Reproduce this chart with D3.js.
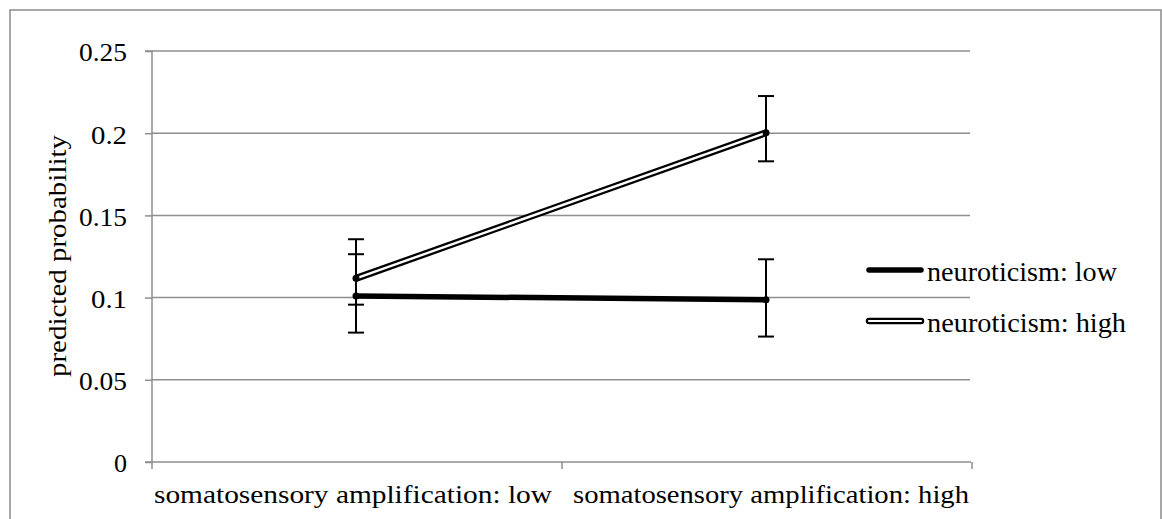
<!DOCTYPE html>
<html>
<head>
<meta charset="utf-8">
<script src="https://cdn.jsdelivr.net/npm/d3@7/dist/d3.min.js"></script>
<style>
html,body{margin:0;padding:0;background:#fff;}
svg{display:block;}
svg text{font-family:"Liberation Serif","DejaVu Serif",serif;fill:#000;}
</style>
</head>
<body>
<svg id="chart" width="1162" height="519"></svg>
<script>
// ---- data ----
const categories = ["somatosensory amplification: low", "somatosensory amplification: high"];
const seriesNames = ["neuroticism: low", "neuroticism: high"];
const lowValues = [0.101, 0.0987];
const lowErrLower = [0.0787, 0.0763];
const lowErrUpper = [0.1264, 0.1233];
const highValues = [0.1117, 0.2003];
const highErrLower = [0.0957, 0.1829];
const highErrUpper = [0.1355, 0.2226];
const yTicks = [0, 0.05, 0.1, 0.15, 0.2, 0.25];
const yTickLabels = ["0", "0.05", "0.1", "0.15", "0.2", "0.25"];
const yTitle = "predicted probability";

(function () {
const svg = d3.select("#chart");
const pLeft = 151, pRight = 971, pTop = 51, pBottom = 462;
const grid = "#8e8e8e";
const serif = "'Liberation Serif','DejaVu Serif',serif";

const x = d3.scaleBand().domain(categories).range([pLeft, pRight]).padding(0);
const xc = c => x(c) + x.bandwidth() / 2;
const y = d3.scaleLinear().domain([0, 0.25]).range([pBottom, pTop]);

// outer border
svg.append("rect").attr("x", 10).attr("y", 10).attr("width", 1151).attr("height", 530)
  .attr("fill", "none").attr("stroke", "#8a8a8a").attr("stroke-width", 1.5);

// gridlines
svg.append("g").selectAll("line").data(yTicks.filter(d => d > 0)).join("line")
  .attr("x1", pLeft + 1).attr("x2", pRight - 1)
  .attr("y1", d => y(d)).attr("y2", d => y(d))
  .attr("stroke", grid).attr("stroke-width", 1.5);

// y axis
const yAxis = d3.axisLeft(y).tickValues(yTicks).tickSize(7).tickPadding(18)
  .tickFormat((d, i) => yTickLabels[i]);
const gy = svg.append("g").attr("transform", `translate(${pLeft + 1},0)`).call(yAxis);
gy.attr("font-family", serif);
gy.select(".domain").attr("stroke", grid).attr("stroke-width", 1.5).attr("d", `M-7,${pTop}H0V${pBottom}H-7`);
gy.selectAll(".tick line").attr("stroke", grid).attr("stroke-width", 1.5);
gy.selectAll(".tick text").attr("font-size", 26)
  .attr("dy", "0.38em").attr("fill", "#000")
  .each(function (d, i) {
    const t = yTickLabels[i];
    if (t.length > 1) d3.select(this).attr("textLength", t.length === 4 ? 48 : 36).attr("lengthAdjust", "spacingAndGlyphs");
  });

// x axis line and boundary ticks
const xBounds = categories.map(c => x(c)).concat([x(categories[categories.length - 1]) + x.bandwidth()]);
svg.append("line").attr("x1", pLeft).attr("x2", pRight).attr("y1", pBottom).attr("y2", pBottom)
  .attr("stroke", grid).attr("stroke-width", 1.5);
svg.append("g").selectAll("line").data(xBounds).join("line")
  .attr("x1", d => d + 1).attr("x2", d => d + 1).attr("y1", pBottom).attr("y2", pBottom + 7)
  .attr("stroke", grid).attr("stroke-width", 1.5);
svg.append("g").selectAll("text").data(categories).join("text")
  .attr("x", (d, i) => xc(d) + (i === 0 ? -3 : 5)).attr("y", 503)
  .attr("text-anchor", "middle").attr("font-size", 26)
  .attr("textLength", (d, i) => i === 0 ? 398 : 396).attr("lengthAdjust", "spacingAndGlyphs")
  .text(d => d);

// y title
svg.append("text").attr("transform", "translate(66,256) rotate(-90)")
  .attr("text-anchor", "middle").attr("font-size", 25)
  .attr("textLength", 242).attr("lengthAdjust", "spacingAndGlyphs")
  .text(yTitle);

// lines
const line = d3.line().x((d, i) => xc(categories[i])).y(d => y(d));
svg.append("path").datum(lowValues).attr("d", line).attr("fill", "none")
  .attr("stroke", "#000").attr("stroke-width", 5.5);
svg.append("path").datum(highValues).attr("d", line).attr("fill", "none")
  .attr("stroke", "#000").attr("stroke-width", 7);
svg.append("path").datum(highValues).attr("d", line).attr("fill", "none")
  .attr("stroke", "#fff").attr("stroke-width", 2.4);

// error bars
function errBars(lo, hi) {
  const g = svg.append("g").attr("stroke", "#000").attr("stroke-width", 2);
  categories.forEach((c, i) => {
    const cx = xc(c);
    g.append("line").attr("x1", cx).attr("x2", cx).attr("y1", y(lo[i])).attr("y2", y(hi[i]));
    g.append("line").attr("x1", cx - 8).attr("x2", cx + 8).attr("y1", y(lo[i])).attr("y2", y(lo[i]));
    g.append("line").attr("x1", cx - 8).attr("x2", cx + 8).attr("y1", y(hi[i])).attr("y2", y(hi[i]));
  });
}
errBars(lowErrLower, lowErrUpper);
errBars(highErrLower, highErrUpper);

// markers
[lowValues, highValues].forEach(vals => {
  svg.append("g").selectAll("circle").data(vals).join("circle")
    .attr("cx", (d, i) => xc(categories[i])).attr("cy", d => y(d)).attr("r", 3.5).attr("fill", "#000");
});

// legend
const legendY = [270, 321];
const lg = svg.append("g");
lg.append("line").attr("x1", 869).attr("x2", 921).attr("y1", legendY[0]).attr("y2", legendY[0])
  .attr("stroke", "#000").attr("stroke-width", 5.5).attr("stroke-linecap", "round");
lg.append("line").attr("x1", 869).attr("x2", 921).attr("y1", legendY[1]).attr("y2", legendY[1])
  .attr("stroke", "#000").attr("stroke-width", 6.5).attr("stroke-linecap", "round");
lg.append("line").attr("x1", 869).attr("x2", 921).attr("y1", legendY[1]).attr("y2", legendY[1])
  .attr("stroke", "#fff").attr("stroke-width", 2.2).attr("stroke-linecap", "round");
lg.selectAll("text").data(seriesNames).join("text")
  .attr("x", 927).attr("y", (d, i) => legendY[i] + 10.5)
  .attr("font-size", 27)
  .attr("textLength", (d, i) => i === 0 ? 190 : 199).attr("lengthAdjust", "spacingAndGlyphs")
  .text(d => d);
})();
</script>
</body>
</html>
